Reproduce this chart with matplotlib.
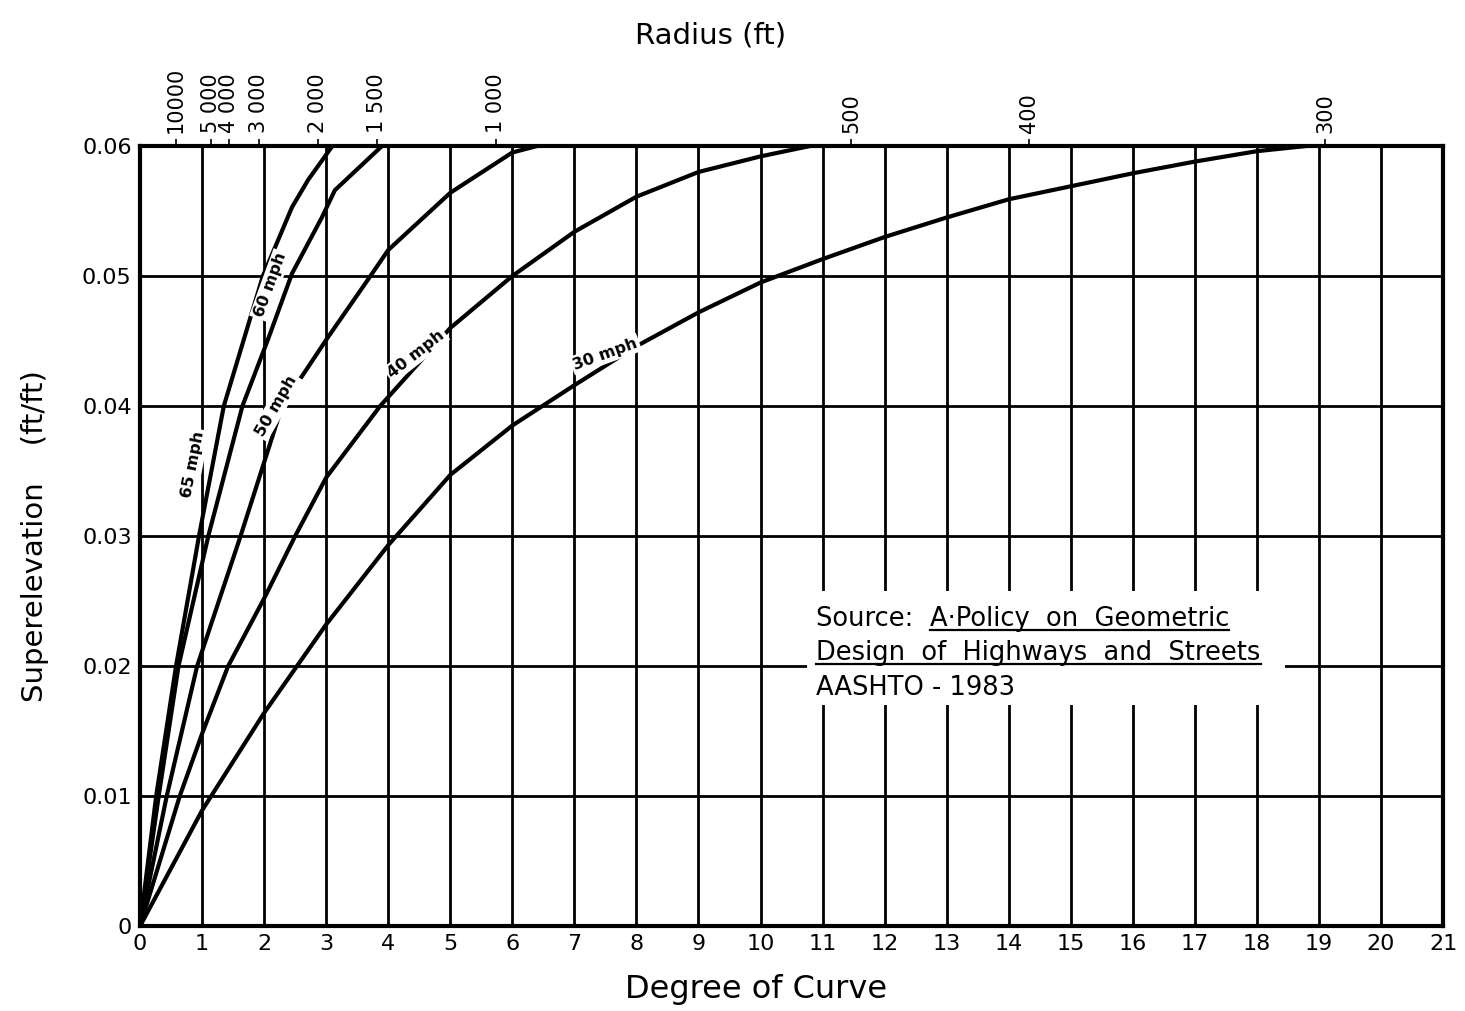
import matplotlib.pyplot as plt
import numpy as np

# Superelevation (ft/ft) against degree of curve
deg_65 = [0, 0.26, 0.58, 0.95, 1.35, 1.98, 2.45, 2.71, 3.1]
e_65 = [0, 0.01, 0.02, 0.03, 0.04, 0.05, 0.0553, 0.0574, 0.06]

deg_60 = [0, 0.30, 0.62, 1.10, 1.65, 2.06, 2.45, 2.93, 3.14, 3.9]
e_60 = [0, 0.01, 0.02, 0.03, 0.04, 0.0451, 0.0502, 0.0545, 0.0566, 0.06]

deg_50 = [0, 0.43, 0.92, 1.62, 2.29, 3.03, 3.67, 4.0, 5.0, 6.0, 6.4]
e_50 = [0, 0.01, 0.02, 0.03, 0.04, 0.0453, 0.0497, 0.052, 0.0564, 0.0595, 0.06]

deg_40 = [0, 0.64, 1.0, 1.42, 2.0, 2.5, 3.0, 3.87, 5, 6, 7, 8, 9, 10, 10.8]
e_40 = [0, 0.01, 0.0148, 0.02, 0.0252, 0.03, 0.0345, 0.04, 0.046, 0.050,
        0.0534, 0.0561, 0.058, 0.0592, 0.06]

deg_30 = [0, 1, 2, 3, 4, 5, 6, 7, 8, 9, 10, 11, 12, 13, 14, 15, 16, 17, 18, 18.8]
e_30 = [0, 0.0089, 0.0164, 0.0232, 0.0293, 0.0347, 0.0385, 0.0416, 0.0446, 0.0472,
        0.0495, 0.0513, 0.053, 0.0545, 0.0559, 0.0569, 0.0579, 0.0588, 0.0596, 0.06]

# labels along the curves: text, degree, superelevation, angle
curve_labels = [("65 mph", 0.86, 0.0355, 79),
                ("60 mph", 2.1, 0.0493, 70),
                ("50 mph", 2.2, 0.0400, 60),
                ("40 mph", 4.45, 0.0440, 38),
                ("30 mph", 7.5, 0.0440, 20)]

degree_ticks = list(range(0, 22))
e_ticks = [0, 0.01, 0.02, 0.03, 0.04, 0.05, 0.06]
e_tick_labels = ["0", "0.01", "0.02", "0.03", "0.04", "0.05", "0.06"]

radius_ft = [10000, 5000, 4000, 3000, 2000, 1500, 1000, 500, 400, 300]
radius_labels = ["10000", "5 000", "4 000", "3 000", "2 000", "1 500",
                 "1 000", "500", "400", "300"]

note_lines = [("Source:  ", "A\u00b7Policy  on  Geometric"),
              ("", "Design  of  Highways  and  Streets"),
              ("AASHTO - 1983", "")]

plt.rcParams['font.family'] = ['DejaVu Sans']

fig = plt.figure(figsize=(14.65, 10.11), dpi=100)
ax = fig.add_axes([0.0956, 0.084, 0.8894, 0.7716])

ax.set_xlim(0, 21)
ax.set_ylim(0, 0.06)
ax.set_xticks(degree_ticks)
ax.set_yticks(e_ticks)
ax.set_yticklabels(e_tick_labels)
ax.tick_params(length=0, labelsize=16, pad=6)
ax.grid(True, color="black", linewidth=2)
for s in ax.spines.values():
    s.set_linewidth(3)

for d, e in [(deg_65, e_65), (deg_60, e_60), (deg_50, e_50), (deg_40, e_40), (deg_30, e_30)]:
    ax.plot(d, e, color="black", linewidth=3, solid_capstyle="round", zorder=3)

for txt, x, y, rot in curve_labels:
    ax.text(x, y, txt, rotation=rot, fontsize=11.5, fontweight="bold", ha="center", va="center",
            rotation_mode="anchor", zorder=4,
            bbox=dict(facecolor="white", edgecolor="none", pad=1.5))

ax.set_xlabel("Degree of Curve", fontsize=23, labelpad=10)
ax.xaxis.set_label_coords(0.473, -0.062)
ax.set_ylabel("Superelevation    (ft/ft)", fontsize=21, labelpad=24)

# radius scale on top (degree of curve = 5729.58 / radius)
top = ax.twiny()
top.set_xlim(ax.get_xlim())
top.set_xticks([5729.58 / r for r in radius_ft])
top.set_xticklabels(radius_labels, rotation=90, fontsize=15)
top.tick_params(length=5, width=1.2, pad=4)
for s in top.spines.values():
    s.set_visible(False)
fig.text(0.485, 0.965, "Radius (ft)", fontsize=21, ha="center", va="center")

# source note, title parts underlined
fig.canvas.draw()
r = fig.canvas.get_renderer()
inv = ax.transData.inverted()
x0 = 10.9
y_rows = [0.0231, 0.0205, 0.0178]
for (plain, under), yv in zip(note_lines, y_rows):
    t1 = ax.text(x0, yv, plain, fontsize=18.5, ha="left", va="baseline", zorder=5)
    b1 = t1.get_window_extent(r)
    xs = x0 if plain == "" else inv.transform((b1.x1, b1.y0))[0]
    if under:
        t2 = ax.text(xs, yv, under, fontsize=18.5, ha="left", va="baseline", zorder=5)
        b2 = t2.get_window_extent(r)
        (ux0, uy), (ux1, _) = inv.transform([(b2.x0, b2.y0 + 2), (b2.x1, b2.y0 + 2)])
        ax.plot([ux0, ux1], [uy, uy], color="black", linewidth=1.6, zorder=5)

# white patch behind the note, breaking the grid as in the original
ax.fill_between([10.75, 18.45], 0.0170, 0.0258, color="white", zorder=2.5, linewidth=0)

fig.savefig("out.png", dpi=100)
